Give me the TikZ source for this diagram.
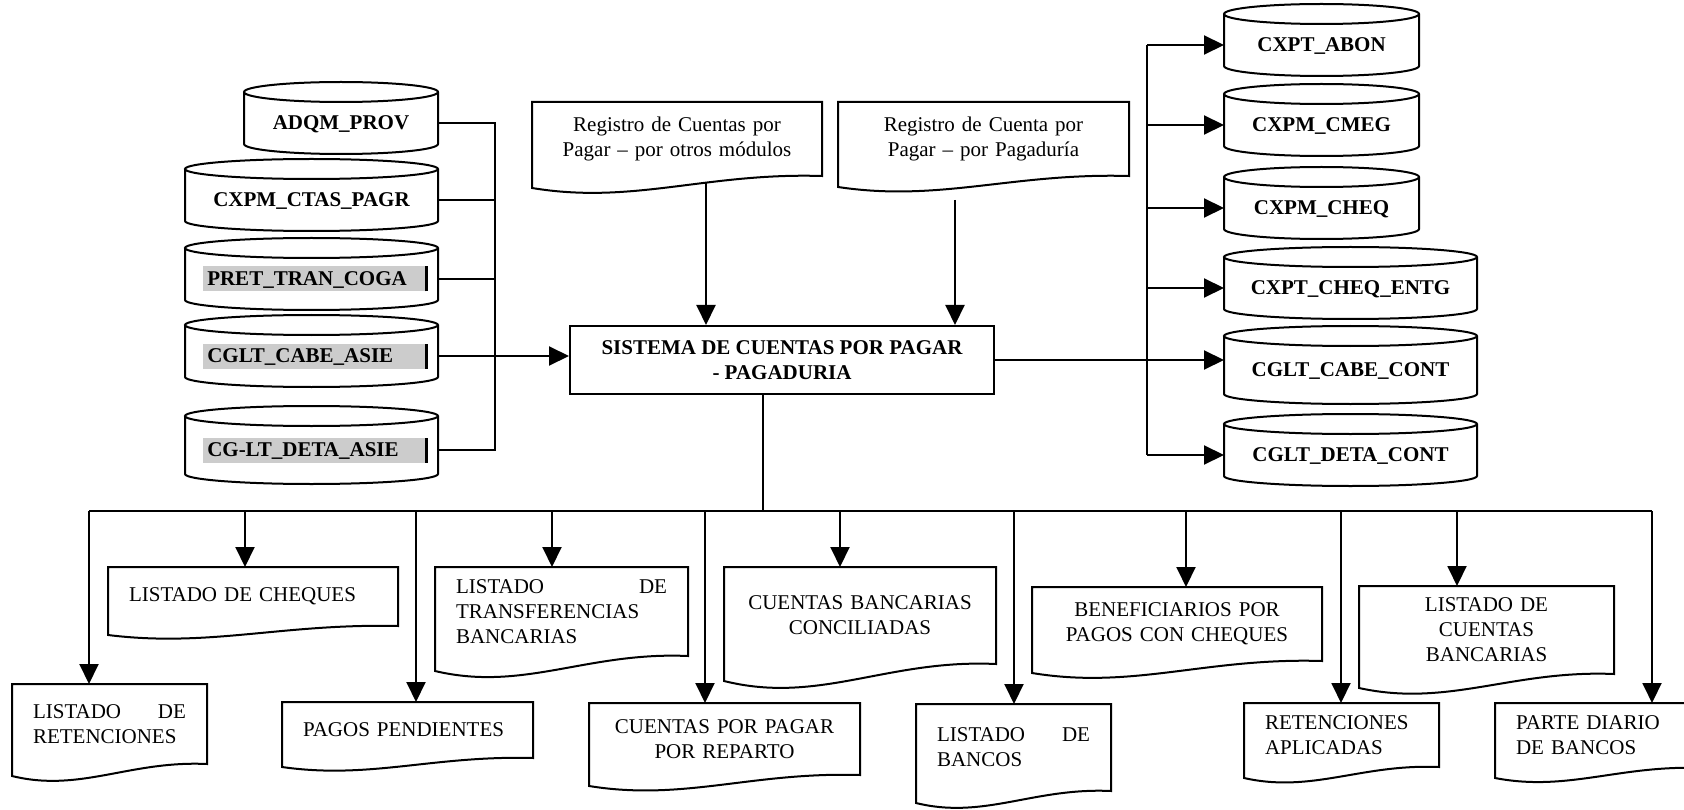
\documentclass[tikz,border=0pt]{standalone}
\usepackage{fontspec}
\setmainfont{Liberation Serif}
\usetikzlibrary{arrows.meta,calc}

\definecolor{hlgray}{gray}{0.80}

% cylinder drawn round a node
\newcommand{\dbshape}[1]{%
\draw let \p1=(#1.north west), \p2=(#1.south east), \n1={(\x2-\x1)/2} in
  (\x1,\y1) -- (\x1,{\y2+10pt}) arc[start angle=180,end angle=360,x radius={\n1*1pt},y radius=10pt]
  -- (\x2,\y1) arc[start angle=0,end angle=360,x radius={\n1*1pt},y radius=10pt];}

% document sheet with wavy bottom
\newcommand{\docshape}[2][12]{%
\draw let \p1=(#2.north west), \p2=(#2.south east), \n1={\x2-\x1} in
  (\p1) -- (\x2,\y1) -- (\p2)
  .. controls ({\x1+0.6*\n1},{\y2+0.3*#1pt}) and ({\x1+0.35*\n1},{\y2-2.4*#1pt}) .. (\x1,{\y2-#1pt}) -- cycle;}

% grey marked label
\newcommand{\hlbox}[1]{\hspace*{8pt}{\setlength{\fboxsep}{0pt}\colorbox{hlgray}{\hspace*{4pt}\makebox[218pt][l]{\rule[-6pt]{0pt}{25pt}#1}\rule[-6pt]{2.5pt}{25pt}}}}

\begin{document}
\begin{tikzpicture}[x=1pt,y=-1pt,line width=2pt,
  dbase/.style={rectangle,inner sep=0pt,minimum height=60pt,text height=13pt,text depth=0pt,font=\fontsize{21}{25}\selectfont\bfseries},
  docu/.style={rectangle,inner xsep=20pt,inner ysep=0pt,font=\fontsize{21}{25}\selectfont},
  proc/.style={draw,rectangle,inner sep=0pt,align=center,font=\fontsize{21}{25}\selectfont\bfseries},
  arr/.style={-{Triangle[length=20pt,width=19pt]}}]
\useasboundingbox (0,0) rectangle (1684,810);

% input tables
\node[dbase,minimum width=192pt] (adqm) at (341,123) {ADQM\_PROV}; \dbshape{adqm}
\node[dbase,minimum width=251pt] (ctas) at (311.5,200) {CXPM\_CTAS\_PAGR}; \dbshape{ctas}
\node[dbase,minimum width=251pt] (pret) at (311.5,279) {\hlbox{PRET\_TRAN\_COGA}}; \dbshape{pret}
\node[dbase,minimum width=251pt] (cabeasie) at (311.5,356) {\hlbox{CGLT\_CABE\_ASIE}}; \dbshape{cabeasie}
\node[dbase,minimum width=251pt,minimum height=66pt] (detaasie) at (311.5,450) {\hlbox{CG-LT\_DETA\_ASIE}}; \dbshape{detaasie}

% main process
\node[proc,minimum width=424pt,minimum height=68pt] (sist) at (782,360) {SISTEMA DE CUENTAS POR PAGAR\\- PAGADURIA};

% input documents
\node[docu,minimum width=288pt,minimum height=72pt,text width=248pt,align=center] (rega) at (677,139) {Registro de Cuentas por\\Pagar -- por otros módulos}; \docshape{rega}
\node[docu,minimum width=289pt,minimum height=72pt,text width=249pt,align=center] (regb) at (983.5,139) {Registro de Cuenta por\\Pagar -- por Pagaduría}; \docshape[11]{regb}

% output tables
\node[dbase,minimum width=193pt] (abon) at (1321.5,45) {CXPT\_ABON}; \dbshape{abon}
\node[dbase,minimum width=193pt] (cmeg) at (1321.5,125) {CXPM\_CMEG}; \dbshape{cmeg}
\node[dbase,minimum width=193pt] (cheq) at (1321.5,208) {CXPM\_CHEQ}; \dbshape{cheq}
\node[dbase,minimum width=251pt] (entg) at (1350.5,288) {CXPT\_CHEQ\_ENTG}; \dbshape{entg}
\node[dbase,minimum width=251pt,minimum height=66pt] (cabecont) at (1350.5,370) {CGLT\_CABE\_CONT}; \dbshape{cabecont}
\node[dbase,minimum width=251pt] (detacont) at (1350.5,455) {CGLT\_DETA\_CONT}; \dbshape{detacont}

% reports
\node[docu,minimum width=193pt,minimum height=78pt,text width=153pt,align=left] (lret) at (109.5,724) {LISTADO\hfill DE\\RETENCIONES}; \docshape{lret}
\node[docu,minimum width=288pt,minimum height=57pt,text width=248pt,align=left] (lcheq) at (253,596.5) {LISTADO DE CHEQUES}; \docshape[9]{lcheq}
\node[docu,minimum width=249pt,minimum height=54pt,text width=209pt,align=left] (pagos) at (407.5,730) {PAGOS PENDIENTES}; \docshape[9]{pagos}
\node[docu,minimum width=251pt,minimum height=87pt,text width=211pt,align=left] (ltrans) at (561.5,611.5) {LISTADO\hfill DE\\TRANSFERENCIAS\\BANCARIAS}; \docshape[15]{ltrans}
\node[docu,minimum width=269pt,minimum height=70pt,text width=229pt,align=center] (cxpr) at (724.5,739) {CUENTAS POR PAGAR\\POR REPARTO}; \docshape[11]{cxpr}
\node[docu,minimum width=270pt,minimum height=95pt,text width=230pt,align=center] (cbc) at (860,615.5) {CUENTAS BANCARIAS\\CONCILIADAS}; \docshape[17]{cbc}
\node[docu,minimum width=193pt,minimum height=85pt,text width=153pt,align=left] (lban) at (1013.5,747.5) {LISTADO\hfill DE\\BANCOS}; \docshape{lban}
\node[docu,minimum width=288pt,minimum height=72pt,text width=248pt,align=center] (bene) at (1177,624) {BENEFICIARIOS POR\\PAGOS CON CHEQUES}; \docshape{bene}
\node[docu,minimum width=193pt,minimum height=62pt,text width=153pt,align=left] (retap) at (1341.5,735) {RETENCIONES\\APLICADAS}; \docshape[11]{retap}
\node[docu,minimum width=253pt,minimum height=86pt,text width=213pt,align=center] (lcb) at (1486.5,630) {LISTADO DE\\CUENTAS\\BANCARIAS}; \docshape[14]{lcb}
\node[docu,minimum width=204pt,minimum height=63pt,text width=164pt,align=left] (pdb) at (1598,735.5) {PARTE DIARIO\\DE BANCOS}; \docshape[10]{pdb}

% left collector
\coordinate (lbus) at (495,0);
\draw (adqm.east) -- (adqm.east -| lbus) -- (detaasie.east -| lbus) -- (detaasie.east);
\draw (ctas.east) -- (ctas.east -| lbus);
\draw (pret.east) -- (pret.east -| lbus);
\draw[arr] (cabeasie.east) -- (cabeasie.east -| sist.west);

% documents into the process
\coordinate (outA) at (706,182);
\coordinate (outB) at (955,200);
\draw[arr] (outA) -- (outA |- sist.north);
\draw[arr] (outB) -- (outB |- sist.north);

% right distributor
\coordinate (rbus) at (1147,0);
\draw[arr] (sist.east) -- (sist.east -| cabecont.west);
\draw (rbus |- abon.west) -- (rbus |- detacont.west);
\draw[arr] (rbus |- abon.west) -- (abon.west);
\draw[arr] (rbus |- cmeg.west) -- (cmeg.west);
\draw[arr] (rbus |- cheq.west) -- (cheq.west);
\draw[arr] (rbus |- entg.west) -- (entg.west);
\draw[arr] (rbus |- detacont.west) -- (detacont.west);

% report bus
\coordinate (hub) at (763,511);
\coordinate (d1) at (89,511);
\coordinate (d2) at (245,511);
\coordinate (d3) at (416,511);
\coordinate (d4) at (552,511);
\coordinate (d5) at (705,511);
\coordinate (d6) at (840,511);
\coordinate (d7) at (1014,511);
\coordinate (d8) at (1186,511);
\coordinate (d9) at (1341,511);
\coordinate (d10) at (1457,511);
\coordinate (d11) at (1652,511);
\draw (sist.south -| hub) -- (hub);
\draw (d1) -- (d11);
\draw[arr] (d1) -- (d1 |- lret.north);
\draw[arr] (d2) -- (d2 |- lcheq.north);
\draw[arr] (d3) -- (d3 |- pagos.north);
\draw[arr] (d4) -- (d4 |- ltrans.north);
\draw[arr] (d5) -- (d5 |- cxpr.north);
\draw[arr] (d6) -- (d6 |- cbc.north);
\draw[arr] (d7) -- (d7 |- lban.north);
\draw[arr] (d8) -- (d8 |- bene.north);
\draw[arr] (d9) -- (d9 |- retap.north);
\draw[arr] (d10) -- (d10 |- lcb.north);
\draw[arr] (d11) -- (d11 |- pdb.north);
\end{tikzpicture}
\end{document}
